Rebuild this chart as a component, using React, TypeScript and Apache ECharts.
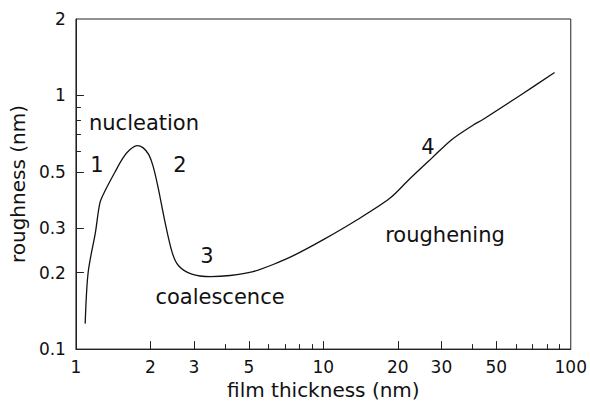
import React, { useEffect, useRef } from "react";
import * as echarts from "echarts";

// film thickness (nm) and roughness (nm)
const thickness = [1.09, 1.12, 1.2, 1.25, 1.31, 1.44, 1.55, 1.65, 1.77, 1.87, 1.97, 2.05, 2.15, 2.28, 2.45, 2.6, 2.92, 3.5, 4.2, 5.2, 6.3, 7.6, 10, 13.6, 18.5, 22.2, 27.5, 33, 40.5, 44, 63, 86];
const roughness = [0.126, 0.2, 0.29, 0.377, 0.42, 0.5, 0.567, 0.61, 0.634, 0.621, 0.584, 0.526, 0.432, 0.324, 0.24, 0.213, 0.198, 0.193, 0.195, 0.202, 0.216, 0.234, 0.27, 0.322, 0.392, 0.466, 0.567, 0.669, 0.766, 0.802, 1.006, 1.23];

const xLabels = [1, 2, 3, 5, 10, 20, 30, 50, 100];
const xMajorTicks = [2, 3, 5, 10, 20, 30, 50];
const xMinorTicks = [4, 6, 7, 8, 9, 40, 60, 70, 80, 90];
const yLabels = [0.1, 0.2, 0.3, 0.5, 1, 2];
const yMajorTicks = [0.2, 0.3, 0.5, 1];
const yMinorTicks = [0.6, 0.7, 0.8, 0.9];

const annotations = [
  { text: "nucleation", x: 144, y: 123 },
  { text: "1", x: 97, y: 165 },
  { text: "2", x: 180, y: 165 },
  { text: "3", x: 207, y: 256 },
  { text: "coalescence", x: 220, y: 297 },
  { text: "4", x: 428, y: 147 },
  { text: "roughening", x: 445, y: 235 },
];

const FONT = "DejaVu Sans";
const INK = "#111";

const fmt = (v: number) => String(+Number(v).toPrecision(6));

export default function App() {
  const ref = useRef<HTMLDivElement>(null);
  useEffect(() => {
    if (!ref.current) return;
    const chart = echarts.init(ref.current, null, { renderer: "svg" });
    const baseX = {
      type: "log" as const,
      logBase: 10,
      min: 1,
      max: 100,
      gridIndex: 0,
      position: "bottom" as const,
      splitLine: { show: false },
    };
    const baseY = {
      type: "log" as const,
      logBase: 10,
      min: 0.1,
      max: 2,
      gridIndex: 0,
      position: "left" as const,
      splitLine: { show: false },
    };
    chart.setOption({
      animation: false,
      backgroundColor: "#fff",
      grid: {
        left: 74,
        right: 17,
        top: 19,
        bottom: 55,
        show: true,
        borderColor: "#222",
        borderWidth: 1,
        backgroundColor: "transparent",
      },
      xAxis: [
        {
          ...baseX,
          name: "film thickness (nm)",
          nameLocation: "middle",
          nameGap: 27,
          nameTextStyle: { fontFamily: FONT, fontSize: 20, color: INK },
          axisLine: { show: true, lineStyle: { color: "#222", width: 1 } },
          axisTick: {
            show: true,
            inside: true,
            length: 8,
            customValues: xMajorTicks,
            lineStyle: { color: "#222", width: 1 },
          },
          axisLabel: {
            show: true,
            customValues: xLabels,
            formatter: fmt,
            fontFamily: FONT,
            fontSize: 17,
            color: INK,
            margin: 9,
          },
        },
        {
          ...baseX,
          axisLine: { show: false },
          axisTick: {
            show: true,
            inside: true,
            length: 5,
            customValues: xMinorTicks,
            lineStyle: { color: "#222", width: 1 },
          },
          axisLabel: { show: false },
        },
      ],
      yAxis: [
        {
          ...baseY,
          name: "roughness (nm)",
          nameLocation: "middle",
          nameRotate: 90,
          nameGap: 37,
          nameTextStyle: { fontFamily: FONT, fontSize: 20, color: INK },
          axisLine: { show: true, lineStyle: { color: "#222", width: 1 } },
          axisTick: {
            show: true,
            inside: true,
            length: 8,
            customValues: yMajorTicks,
            lineStyle: { color: "#222", width: 1 },
          },
          axisLabel: {
            show: true,
            customValues: yLabels,
            formatter: fmt,
            fontFamily: FONT,
            fontSize: 17,
            color: INK,
            margin: 10,
          },
        },
        {
          ...baseY,
          axisLine: { show: false },
          axisTick: {
            show: true,
            inside: true,
            length: 5,
            customValues: yMinorTicks,
            lineStyle: { color: "#222", width: 1 },
          },
          axisLabel: { show: false },
        },
      ],
      series: [
        {
          type: "line",
          xAxisIndex: 0,
          yAxisIndex: 0,
          data: thickness.map((t, i) => [t, roughness[i]]),
          showSymbol: false,
          smooth: 0.3,
          lineStyle: { color: "#111", width: 1.3 },
        },
      ],
      graphic: annotations.map((a) => ({
        type: "text",
        x: a.x,
        y: a.y,
        style: {
          text: a.text,
          align: "center",
          verticalAlign: "middle",
          fontFamily: FONT,
          fontSize: 21,
          fill: INK,
        },
      })),
    });
    return () => chart.dispose();
  }, []);
  return (
    <div
      ref={ref}
      style={{ position: "fixed", left: 0, top: 0, width: 590, height: 405 }}
    />
  );
}
